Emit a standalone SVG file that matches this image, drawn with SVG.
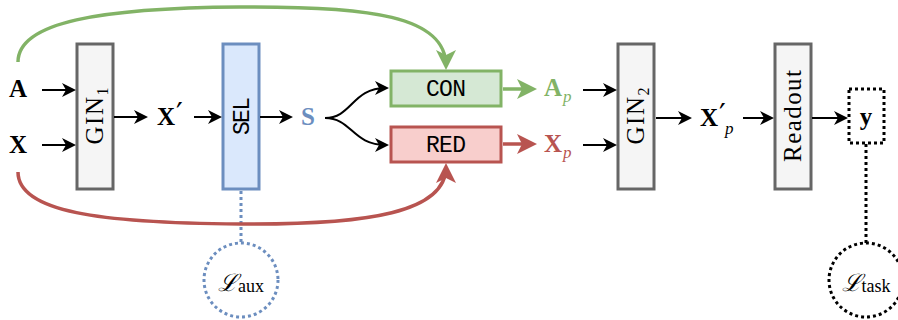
<svg xmlns="http://www.w3.org/2000/svg" width="898" height="320" viewBox="0 0 898 320">
<defs>
<style>
.box{fill:#f5f5f5;stroke:#666666;stroke-width:3}
.sel{fill:#dae8fc;stroke:#6c8ebf;stroke-width:3}
.con{fill:#d5e8d4;stroke:#82b366;stroke-width:3}
.red{fill:#f8cecc;stroke:#b85450;stroke-width:3}
.ar{fill:none;stroke:#000;stroke-width:2;marker-end:url(#ab)}
.ag{fill:none;stroke:#82b366;stroke-width:3.5;marker-end:url(#ag)}
.arr{fill:none;stroke:#b85450;stroke-width:3.5;marker-end:url(#arr)}
.m{font-family:"Liberation Serif","DejaVu Serif",serif;font-weight:bold;font-size:25px}
.sub{font-family:"Liberation Serif","DejaVu Serif",serif;font-style:italic;font-weight:normal;font-size:17px}
.rm{font-family:"Liberation Serif","DejaVu Serif",serif;font-size:25px}
.tt{font-family:"Liberation Mono","DejaVu Sans Mono",monospace;font-size:23px}
.pr{font-family:"DejaVu Sans",sans-serif;font-weight:normal;font-size:30px}
.cal{font-family:"DejaVu Serif","Liberation Serif",serif;font-style:italic;font-size:24px}
.dotb{fill:none;stroke:#6c8ebf;stroke-width:3;stroke-dasharray:3 3}
.dotk{fill:none;stroke:#000;stroke-width:3;stroke-dasharray:3 3}
</style>
<marker id="ab" viewBox="0 0 14 14" refX="11" refY="7" markerWidth="14" markerHeight="14" orient="auto" markerUnits="userSpaceOnUse"><path d="M0,0 L14,7 L0,14 L4,7 Z" fill="#000"/></marker>
<marker id="ag" viewBox="0 0 20 20" refX="16" refY="10" markerWidth="20" markerHeight="20" orient="auto" markerUnits="userSpaceOnUse"><path d="M0,0 L20,10 L0,20 L5,10 Z" fill="#82b366"/></marker>
<marker id="arr" viewBox="0 0 20 20" refX="16" refY="10" markerWidth="20" markerHeight="20" orient="auto" markerUnits="userSpaceOnUse"><path d="M0,0 L20,10 L0,20 L5,10 Z" fill="#b85450"/></marker>
</defs>
<rect width="898" height="320" fill="#fff"/>

<g id="label-A"><text class="m" x="18" y="97" text-anchor="middle">A</text></g>
<g id="label-X"><text class="m" x="18" y="153" text-anchor="middle">X</text></g>

<g id="gin1">
<rect class="box" x="77" y="44" width="36" height="145"/>
<text class="rm" transform="translate(95,116) rotate(-90)" y="8" text-anchor="middle" textLength="57" font-size="24">GIN<tspan font-size="16" dy="5">1</tspan></text>
</g>

<g id="label-Xprime"><text class="m" x="157" y="125">X<tspan class="pr" dx="1" dy="-1">′</tspan></text></g>

<g id="sel">
<rect class="sel" x="223" y="44" width="36" height="145"/>
<text class="tt" transform="translate(241,116) rotate(-90)" y="8" text-anchor="middle" textLength="38">SEL</text>
</g>

<g id="label-S"><text class="m" x="308" y="125" text-anchor="middle" fill="#6c8ebf">S</text></g>

<g id="con">
<rect class="con" x="391" y="71" width="110" height="35"/>
<text class="tt" x="446" y="96" text-anchor="middle" textLength="40">CON</text>
</g>
<g id="red">
<rect class="red" x="391" y="127" width="110" height="35"/>
<text class="tt" x="446" y="152" text-anchor="middle" textLength="40">RED</text>
</g>

<g id="label-Ap"><text class="m" x="544" y="96" fill="#82b366">A<tspan class="sub" dx="1" dy="6">p</tspan></text></g>
<g id="label-Xp"><text class="m" x="544" y="152" fill="#b85450">X<tspan class="sub" dx="1" dy="6">p</tspan></text></g>

<g id="gin2">
<rect class="box" x="618" y="44" width="36" height="145"/>
<text class="rm" transform="translate(636,116) rotate(-90)" y="8" text-anchor="middle" textLength="57" font-size="24">GIN<tspan font-size="16" dy="5">2</tspan></text>
</g>

<g id="label-Xpprime"><text class="m" x="700" y="126">X<tspan class="pr" dx="1" dy="-1">′</tspan><tspan class="sub" dx="-1" dy="9">p</tspan></text></g>

<g id="readout">
<rect class="box" x="775" y="44" width="36" height="145"/>
<text class="rm" transform="translate(793,116) rotate(-90)" y="8" text-anchor="middle" textLength="92" font-size="26">Readout</text>
</g>

<g id="y-node">
<rect class="dotk" x="849" y="89" width="35" height="54"/>
<text class="m" x="866" y="125" text-anchor="middle" font-size="24">y</text>
</g>

<g id="laux">
<circle class="dotb" cx="241" cy="280" r="37"/>
<text x="241" y="291" text-anchor="middle"><tspan class="cal">ℒ</tspan><tspan font-family="Liberation Serif, serif" font-size="18" dy="1">aux</tspan></text>
</g>

<g id="ltask">
<circle class="dotk" cx="866" cy="280" r="37"/>
<text x="866" y="291" text-anchor="middle"><tspan class="cal">ℒ</tspan><tspan font-family="Liberation Serif, serif" font-size="18" dy="1">task</tspan></text>
</g>

<g id="connectors">
<line class="ar" x1="42" y1="90" x2="73" y2="90"/>
<line class="ar" x1="42" y1="145" x2="73" y2="145"/>
<line class="ar" x1="114" y1="117" x2="145" y2="117"/>
<line class="ar" x1="194" y1="117" x2="219" y2="117"/>
<line class="ar" x1="260" y1="117" x2="290" y2="117"/>
<path class="ar" d="M325,118 C352,118 352,88 386,88"/>
<path class="ar" d="M325,118 C352,118 352,145 386,145"/>
<line class="ag" x1="503" y1="89" x2="533" y2="89"/>
<line class="arr" x1="503" y1="144" x2="533" y2="144"/>
<line class="ar" x1="583" y1="90" x2="614" y2="90"/>
<line class="ar" x1="583" y1="145" x2="614" y2="145"/>
<line class="ar" x1="656" y1="118" x2="689" y2="118"/>
<line class="ar" x1="743" y1="118" x2="771" y2="118"/>
<line class="ar" x1="812" y1="118" x2="845" y2="118"/>
<path class="ag" d="M18,62 C18,22 100,8 240,7 C370,6 446,16 446,66"/>
<line class="dotb" x1="241" y1="191" x2="241" y2="243"/>
<path class="arr" d="M18,172 C18,212 100,223 240,224 C370,225 446,212 446,167"/>
<line class="dotk" x1="866" y1="144" x2="866" y2="243"/>
</g>
</svg>
